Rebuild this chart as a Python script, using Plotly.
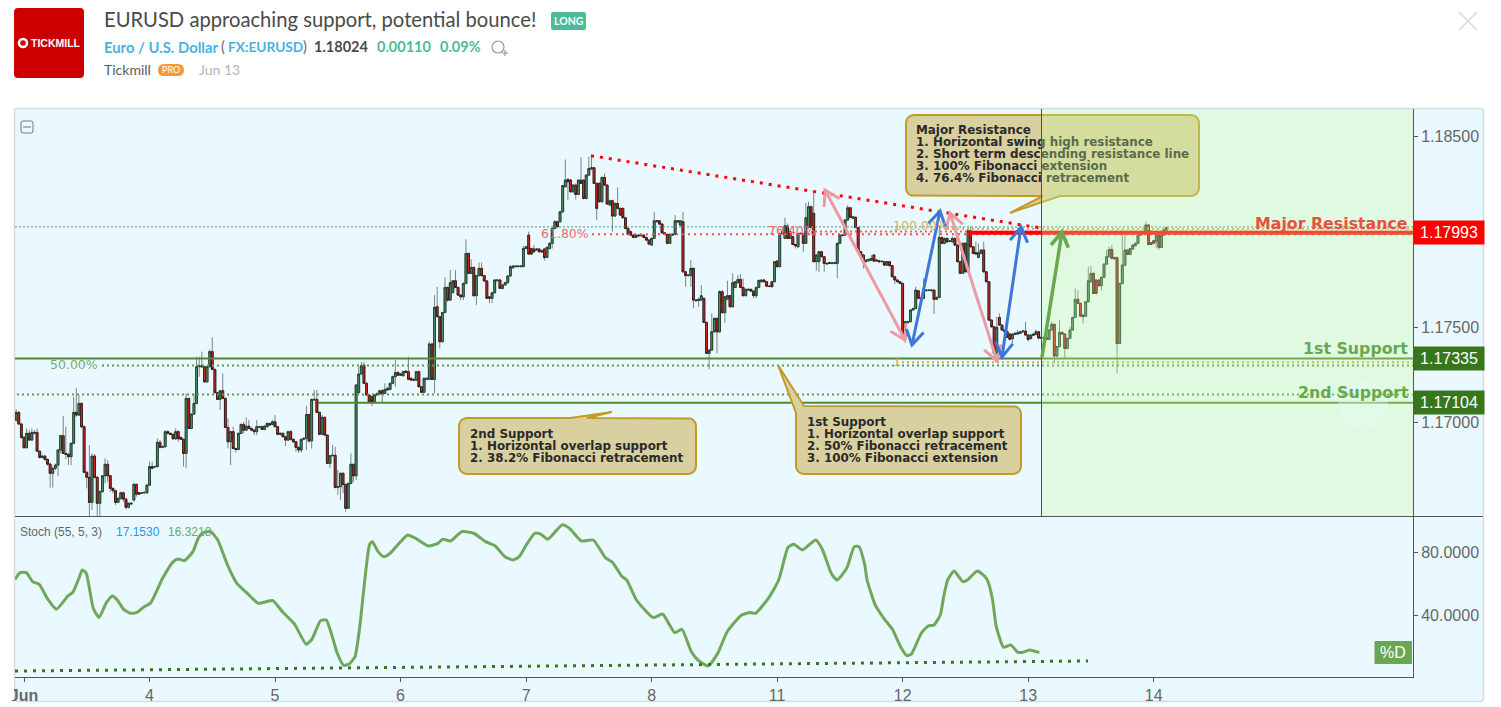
#################
# EURUSD idea chart: 30 minute candles, stochastic pane, support / resistance drawings
#################
import numpy as np
import plotly.graph_objects as go

# candle values in 1e-5 price points, one line = 10 bars
bar_open = [
    117013,117053,116992,116922,116868,116943,116908,116943,116948,116850,
    116817,116824,116807,116782,116734,116760,116777,116856,116931,116838,
    116833,116821,116891,117053,117039,117100,116978,116739,116713,116582,
    116824,116713,116577,116638,116721,116781,116721,116655,116643,116582,
    116603,116632,116599,116556,116573,116594,116676,116632,116629,116632,
    116632,116672,116769,116767,116769,116896,116870,116873,116952,116943,
    116938,116915,116952,116922,116912,116838,117126,116969,117044,117100,
    117292,117297,117292,117213,117292,117371,117278,117156,117121,117166,
    117126,116974,116899,116952,116864,116859,116943,116990,116960,116981,
    116969,116960,116952,116976,116978,116964,116978,116995,116990,117004,
    116978,116938,116943,116926,116908,116952,116912,116899,116870,116856,
    116912,116917,117042,116903,117118,117121,117053,116938,117027,116934,
    116786,116826,116828,116660,116664,116734,116676,116551,116681,116781,
    116721,117156,117254,117300,117205,117144,117135,117109,117144,117149,
    117166,117152,117170,117173,117205,117240,117262,117254,117245,117269,
    117266,117231,117226,117222,117266,117187,117158,117226,117226,117411,
    117226,117606,117554,117423,117576,117707,117641,117680,117742,117707,
    117667,117658,117728,117885,117781,117812,117664,117769,117807,117769,
    117741,117658,117650,117679,117742,117746,117702,117720,117732,117767,
    117810,117816,117816,117816,117816,117911,117981,117911,117908,117903,
    117908,117899,117908,117864,117911,117938,118016,118051,118051,118103,
    118234,118273,118269,118208,118243,118194,118269,118269,118173,118295,
    118327,118334,118252,118252,118156,118283,118243,118139,118161,118081,
    118147,118121,118121,118072,118016,117999,117981,117969,117976,117978,
    117981,117969,117955,117929,117964,118051,118056,118039,117993,117985,
    117938,117981,117985,118056,118034,118051,117789,117769,117769,117807,
    117641,117638,117641,117650,117524,117362,117379,117475,117545,117475,
    117685,117575,117646,117664,117606,117707,117732,117749,117707,117664,
    117693,117697,117688,117664,117707,117737,117746,117737,117714,117737,
    117737,117845,117816,117987,117964,118028,117964,117973,117932,117920,
    117987,117990,117938,118021,118130,118095,117842,117842,117894,117868,
    117833,117837,117833,117833,117833,117938,117979,117981,118060,118124,
    118069,118074,118021,117894,117877,117842,117847,117850,117877,117845,
    117847,117842,117842,117824,117842,117821,117763,117746,117737,117728,
    117449,117523,117528,117589,117597,117690,117645,117650,117690,117691,
    117690,117693,117645,117655,117969,117938,117964,117948,117946,117964,
    117929,117842,117781,117938,117789,118004,117920,117889,117864,117885,
    117903,117789,117737,117536,117501,117362,117550,117510,117484,117475,
    117463,117439,117461,117463,117467,117475,117479,117458,117439,117456,
    117461,117475,117446,117440,117446,117435,117484,117514,117348,117397,
    117472,117463,117388,117440,117484,117550,117645,117624,117562,117557,
    117632,117737,117781,117746,117746,117716,117760,117829,117868,117906,
    117857,117864,117414,117728,117824,117903,117880,117908,117925,117938,
    117981,117993,117999,118034,117941,117952,117946,117981,117917,117981,118007,
]
bar_high = [
    117069,117060,116998,116930,116969,116960,116969,116960,116969,116852,
    116830,116830,116810,116790,116770,116785,116862,116936,117034,116978,
    116840,116895,117135,117179,117144,117105,116985,116745,116882,116838,
    116835,116720,116645,116725,116812,116803,116725,116660,116648,116608,
    116638,116638,116604,116582,116582,116685,116680,116636,116636,116638,
    116678,116795,116795,116775,116917,116908,116880,116960,116960,116948,
    116942,116969,116958,116926,116916,117152,117130,117048,117152,117344,
    117344,117371,117296,117296,117383,117446,117282,117160,117170,117257,
    117130,117021,116956,116978,116868,116948,116995,117004,117027,117013,
    116973,116965,117013,116983,116983,116985,117000,117000,117013,117039,
    116982,116948,116948,116930,116956,116960,116916,116903,116874,116916,
    116922,117086,117046,117125,117170,117170,117057,117039,117031,116938,
    116830,116882,116873,116751,116738,116738,116680,116686,116838,116785,
    117200,117292,117318,117318,117210,117148,117140,117148,117157,117171,
    117175,117205,117184,117210,117245,117327,117268,117258,117271,117274,
    117344,117236,117230,117271,117271,117192,117236,117236,117423,117416,
    117667,117711,117558,117580,117760,117712,117798,117746,117798,117712,
    117672,117733,117959,117890,117854,117816,117773,117837,117837,117773,
    117745,117662,117684,117751,117751,117751,117724,117737,117771,117824,
    117824,117824,117823,117822,117925,117925,117999,117916,117929,117914,
    117914,117904,117914,117922,117943,118020,118060,118056,118108,118244,
    118377,118278,118274,118248,118252,118274,118388,118274,118300,118391,
    118400,118338,118256,118256,118288,118304,118248,118166,118166,118152,
    118231,118125,118125,118076,118020,118004,117985,117986,117985,117986,
    117986,117973,117959,117968,118103,118060,118060,118043,117997,117989,
    117989,117989,118086,118060,118060,118103,117793,117776,117850,117811,
    117645,117650,117720,117654,117528,117383,117571,117550,117550,117693,
    117693,117662,117742,117668,117781,117742,117772,117777,117754,117702,
    117702,117702,117692,117712,117748,117750,117750,117741,117718,117741,
    117846,117850,117994,118025,118074,118042,118016,117978,117936,117994,
    117994,117994,118151,118156,118135,118213,117882,117899,117899,117872,
    117838,117842,117840,117842,117942,117986,117986,118065,118138,118129,
    118082,118079,118025,117898,117881,117855,117858,117877,117881,117855,
    117852,117848,117846,117846,117846,117825,117767,117750,117741,117732,
    117532,117532,117593,117602,117711,117694,117654,117755,117697,117697,
    117697,117697,117660,118028,117973,117968,117968,117955,117973,117968,
    117933,117846,117943,117943,118009,118025,117924,117947,117938,117907,
    117947,117793,117741,117540,117505,117554,117571,117514,117488,117484,
    117467,117467,117471,117484,117479,117483,117528,117462,117462,117467,
    117487,117479,117450,117450,117450,117488,117528,117518,117401,117536,
    117476,117467,117444,117501,117554,117702,117693,117628,117566,117636,
    117816,117819,117785,117750,117750,117764,117833,117903,117920,117929,
    117868,117868,117732,118007,117999,117907,117915,117933,117942,117985,
    117997,118003,118051,118038,117945,117956,117985,117985,117985,118015,118025,
]
bar_low = [
    117004,116987,116915,116864,116864,116905,116905,116938,116846,116812,
    116812,116800,116774,116659,116659,116751,116720,116838,116835,116807,
    116777,116777,116885,117030,117034,116970,116735,116655,116510,116542,
    116705,116510,116510,116632,116681,116690,116638,116629,116568,116577,
    116594,116585,116545,116550,116570,116585,116612,116620,116625,116628,
    116628,116667,116755,116762,116765,116864,116866,116868,116938,116933,
    116908,116908,116899,116908,116769,116760,116965,116965,117040,117096,
    117240,117288,117208,117208,117288,117274,117152,117118,117065,117122,
    116970,116864,116777,116859,116842,116855,116938,116943,116955,116965,
    116955,116934,116934,116972,116960,116960,116974,116982,116985,116974,
    116934,116933,116920,116877,116903,116906,116895,116847,116842,116842,
    116908,116856,116894,116864,117114,117049,116934,116934,116930,116782,
    116760,116822,116655,116620,116594,116629,116533,116547,116676,116690,
    116699,117152,117250,117200,117140,117105,117086,117105,117140,117145,
    117103,117148,117165,117168,117200,117187,117244,117244,117240,117258,
    117221,117218,117218,117218,117183,117154,117154,117222,117222,117222,
    117152,117550,117388,117418,117572,117632,117636,117676,117703,117662,
    117640,117640,117724,117776,117776,117658,117615,117765,117765,117736,
    117645,117625,117625,117675,117738,117698,117698,117716,117728,117763,
    117805,117812,117812,117812,117812,117907,117878,117878,117890,117898,
    117890,117890,117847,117860,117907,117911,118012,118020,118047,118099,
    118230,118165,118204,118204,118168,118190,118248,118168,118168,118290,
    118322,118248,118060,118151,118151,118238,118140,118134,117999,118076,
    118117,118082,118068,118012,117981,117977,117965,117965,117972,117974,
    117965,117950,117930,117925,117960,118047,118035,117989,117981,117934,
    117934,117977,117981,118047,118030,117785,117711,117765,117711,117597,
    117634,117606,117637,117520,117358,117278,117375,117470,117362,117470,
    117570,117522,117640,117601,117601,117703,117728,117703,117660,117660,
    117689,117684,117650,117650,117703,117733,117733,117710,117708,117707,
    117733,117812,117812,117983,117960,117960,117960,117928,117911,117916,
    117983,117894,117934,118017,118017,117838,117795,117789,117864,117789,
    117827,117828,117828,117828,117755,117934,117975,117977,118056,118070,
    118065,118017,117890,117873,117807,117838,117843,117846,117841,117841,
    117838,117838,117820,117820,117817,117759,117725,117733,117724,117445,
    117418,117519,117524,117585,117593,117646,117641,117646,117686,117688,
    117686,117568,117641,117651,117934,117934,117942,117944,117942,117925,
    117838,117777,117777,117785,117785,117916,117880,117878,117860,117880,
    117785,117733,117532,117497,117358,117358,117506,117480,117471,117442,
    117431,117414,117457,117459,117463,117471,117454,117423,117435,117452,
    117457,117435,117438,117436,117431,117431,117480,117310,117344,117393,
    117459,117336,117384,117436,117480,117546,117620,117553,117519,117553,
    117628,117733,117672,117672,117712,117690,117756,117825,117864,117855,
    117853,117257,117410,117724,117820,117876,117876,117904,117921,117934,
    117977,117989,117995,117928,117928,117934,117911,117903,117913,117977,118003,
]
bar_close = [
    117053,116992,116922,116868,116943,116908,116948,116948,116850,116817,
    116824,116807,116782,116734,116760,116777,116856,116931,116838,116833,
    116821,116891,117053,117039,117100,116978,116739,116713,116582,116824,
    116713,116577,116638,116721,116781,116721,116655,116643,116582,116603,
    116632,116599,116556,116577,116577,116676,116625,116625,116632,116634,
    116672,116769,116760,116769,116896,116870,116873,116952,116943,116938,
    116915,116952,116915,116912,116838,117126,116969,117044,117100,117292,
    117297,117292,117213,117292,117371,117278,117156,117121,117166,117126,
    116974,116899,116952,116864,116859,116943,116990,116960,116981,116969,
    116960,116952,116978,116978,116964,116981,116995,116987,117004,116978,
    116938,116943,116926,116908,116952,116912,116899,116870,116856,116912,
    116917,117042,116903,117121,117121,117053,116938,117027,116934,116786,
    116826,116828,116660,116664,116734,116676,116551,116681,116781,116721,
    117196,117254,117297,117205,117144,117109,117109,117144,117152,117166,
    117149,117173,117179,117205,117240,117261,117248,117248,117266,117262,
    117226,117222,117222,117266,117187,117158,117231,117231,117411,117226,
    117603,117554,117423,117576,117707,117641,117732,117742,117707,117667,
    117658,117728,117885,117781,117812,117664,117769,117807,117769,117741,
    117650,117650,117679,117746,117746,117702,117720,117732,117767,117816,
    117819,117819,117819,117819,117911,117920,117882,117882,117894,117908,
    117894,117894,117864,117917,117938,118016,118051,118025,118103,118240,
    118269,118260,118208,118243,118194,118269,118252,118173,118295,118330,
    118334,118252,118121,118156,118283,118243,118144,118161,118081,118147,
    118121,118086,118072,118016,117985,117981,117969,117981,117981,117981,
    117969,117955,117934,117964,118056,118056,118039,117993,117985,117938,
    117985,117985,118056,118051,118056,117789,117769,117772,117807,117641,
    117638,117646,117664,117524,117362,117379,117475,117545,117475,117685,
    117575,117658,117664,117606,117732,117737,117749,117707,117664,117697,
    117697,117688,117664,117707,117744,117746,117737,117714,117712,117711,
    117842,117816,117990,117999,118030,117964,117999,117932,117925,117990,
    117990,117938,118072,118130,118021,117842,117877,117894,117868,117833,
    117831,117833,117835,117837,117938,117981,117981,118060,118124,118074,
    118077,118021,117894,117877,117842,117850,117854,117859,117845,117850,
    117842,117844,117824,117842,117821,117763,117746,117737,117728,117449,
    117528,117528,117589,117597,117693,117650,117650,117690,117693,117693,
    117693,117645,117655,117969,117938,117964,117946,117950,117964,117929,
    117842,117781,117938,117789,118004,117920,117885,117882,117889,117903,
    117789,117737,117536,117501,117362,117498,117510,117484,117475,117446,
    117435,117463,117467,117470,117475,117479,117458,117435,117458,117463,
    117475,117442,117442,117446,117435,117484,117514,117348,117397,117472,
    117463,117388,117440,117484,117550,117645,117624,117557,117554,117632,
    117742,117781,117676,117676,117716,117760,117829,117868,117906,117859,
    117864,117414,117728,117824,117903,117880,117911,117929,117938,117981,
    117993,117999,118034,117932,117932,117938,117981,117917,117981,118011,118021,
]
assert len(bar_open) == len(bar_high) == len(bar_low) == len(bar_close)

# stochastic %D
stoch_bar = [
    -3.4,-1.5,0.9,3.3,5.9,9.1,12.4,16.8,18.7,21,22.3,23.8,26.5,28.7,31.5,33.8,35.7,38.1,40.6,43,
    45.7,48.5,53,57.1,58.9,61.3,64.6,66.8,68.6,71.4,74.1,77.8,81.4,85.1,89.6,95.1,98.8,103.4,107.9,110.1,
    113.4,115.6,117.5,119.8,122.2,124.4,126.6,128.4,132.1,133.2,135.4,137.6,140,146.7,149.7,154.6,158.3,160.1,163.2,167.4,
    172,176.5,180.2,183.9,187,189.4,192.1,195.4,197.6,200.3,205.8,208.6,213.1,217.7,222.3,225,228.7,230.5,234.2,240.6,
    244.2,248.8,251.6,255.2,258,261.6,265.3,268.9,274.4,277.7,
    279.8,284.9,288.6,292.2,294.4,297.7,302.8,305.4,308.7,310.9,314.6,317.5,319.3,321.5,322.4,325.5,328.8,332.1,335.2,337.6,
    339.4,343.1,345.7,348,350.4,351.7,353.2,355.7,359,360.8,364.5,367.2,368.5,370.4,371.8,374.6,377.3,380.1,381.9,384.6,388.3,
]
stoch_value = [
    62.9,67.1,67.1,61.4,59.5,50.2,43.8,52.3,54.6,63.5,68.8,66.7,44.4,38.7,48.0,52.3,49.7,43.8,41.3,41.7,
    45.1,48.0,63.5,74.1,75.8,74.7,80.4,89.5,92.5,93.1,87.8,72.0,60.3,54.4,47.6,49.3,42.3,34.5,21.6,24.8,
    36.6,37.0,28.6,15.9,8.3,9.1,13.8,32.8,84.7,86.8,80.4,77.2,79.4,91.0,88.9,84.0,85.7,88.3,87.2,93.1,
    92.1,86.8,84.0,77.2,75.1,77.2,84.7,92.1,91.6,88.3,97.4,95.2,87.2,87.8,76.6,73.7,64.6,62.4,49.7,38.5,
    40.8,29.0,31.1,16.9,11.2,7.8,15.9,29.6,40.2,41.7,
    41.3,51.4,62.4,83.2,85.1,81.5,87.8,81.5,66.7,62.4,69.8,83.6,83.6,72.0,62.4,46.6,38.1,31.1,20.1,14.4,
    15.5,28.6,33.2,33.9,40.2,51.9,62.4,68.1,61.4,62.4,68.1,65.0,62.0,49.7,32.8,19.7,21.2,16.5,16.5,18.0,16.3,
]

day_ticks = [0, 48, 96, 144, 192, 240, 288, 336, 384, 432]
day_labels = ["<b>Jun</b>", "4", "5", "6", "7", "8", "11", "12", "13", "14"]
price_ticks = [1.185, 1.17993, 1.175, 1.17335, 1.17104, 1.17]
price_labels = ["1.18500", "", "1.17500", "", "", "1.17000"]
stoch_ticks = [40, 80]
stoch_labels = ["40.0000", "80.0000"]

resistance_level = 1.17993
support_1_level = 1.17335
support_2_level = 1.17104
last_price = 1.18024
fib_618_level = 1.17985
fib_764_level = 1.18000
fib_100_level = 1.18015
fib_1_level = 1.17315
fib_500_level = 1.17299
fib_382_level = 1.17147

W = 1501
H = 707


# screen pixel -> axis value, drawings were placed by eye on the screenshot
def bx(px):
    return (px - 24) / 2.615


def py(px):
    return 1.185 + (136 - px) / 19100


def sv(px):
    return 80 + (552.3 - px) / 1.575


def fx(px):
    return px / W


def fy(px):
    return 1 - px / H


bars = np.arange(len(bar_close)) - 3
o = np.array(bar_open) / 1e5
h = np.array(bar_high) / 1e5
l = np.array(bar_low) / 1e5
c = np.array(bar_close) / 1e5

fig = go.Figure()

#################
# Candles: grey wicks first, bodies with dark border on top
#################
fig.add_trace(go.Candlestick(
    x=bars, open=o, high=h, low=l, close=c,
    increasing=dict(line=dict(color="#7b8584", width=1), fillcolor="#7b8584"),
    decreasing=dict(line=dict(color="#7b8584", width=1), fillcolor="#7b8584"),
    hoverinfo="skip", showlegend=False,
))
fig.add_trace(go.Candlestick(
    x=bars, open=o, high=np.maximum(o, c), low=np.minimum(o, c), close=c,
    increasing=dict(line=dict(color="#25402f", width=1), fillcolor="#4f9a72"),
    decreasing=dict(line=dict(color="#3a1c1c", width=1), fillcolor="#e8261e"),
    hoverinfo="skip", showlegend=False,
))


def hline(level, x0, x1, color, width, dash="solid"):
    fig.add_trace(go.Scatter(
        x=[x0, x1], y=[level, level], mode="lines",
        line=dict(color=color, width=width, dash=dash),
        hoverinfo="skip", showlegend=False,
    ))


x_end = bx(1413)
x_start = bx(15)
hline(last_price, x_start, x_end, "#4c8f78", 1, "2px,2px")
hline(fib_382_level, bx(17), x_end, "#5f9a4f", 2, "2px,3px")
hline(fib_500_level, bx(102), x_end, "#5f9a4f", 2, "2px,3px")
hline(fib_1_level, bx(902), x_end, "#c9a94f", 2, "2px,3px")
hline(fib_100_level, bx(947), x_end, "#c9a94f", 2, "2px,3px")
hline(fib_764_level, bx(815), x_end, "#ff5a5a", 2, "2px,3px")
hline(fib_618_level, bx(592), x_end, "#ff4a4a", 2, "2px,4px")
hline(support_1_level, x_start, x_end, "#4e8a32", 2)
hline(support_2_level, bx(318), x_end, "#4e8a32", 2)
hline(resistance_level, bx(968), x_end, "#ff0000", 4)

# descending resistance
fig.add_trace(go.Scatter(
    x=[bx(591), bx(1043)], y=[py(155.7), py(228.3)], mode="lines",
    line=dict(color="#ff0000", width=3, dash="3px,6px"),
    hoverinfo="skip", showlegend=False,
))


def arrow(x0, y0, x1, y1, color, width, both=True):
    # shaft with V heads, worked out in pixels then put back on the axes
    pts = []

    def head(ax, ay, bx_, by_):
        ang = np.arctan2(by_ - ay, bx_ - ax)
        out = []
        for s in (ang + 2.6, ang - 2.6):
            out.append((bx_ + 17 * np.cos(s), by_ + 17 * np.sin(s)))
        return out

    a1, a2 = head(x0, y0, x1, y1)
    pts += [(x0, y0), (x1, y1), a1, (x1, y1), a2, (x1, y1), (x0, y0)]
    if both:
        b1, b2 = head(x1, y1, x0, y0)
        pts += [b1, (x0, y0), b2]
    fig.add_trace(go.Scatter(
        x=[bx(p[0]) for p in pts], y=[py(p[1]) for p in pts], mode="lines",
        line=dict(color=color, width=width, shape="linear"),
        hoverinfo="skip", showlegend=False,
    ))


arrow(825, 190, 905, 340, "#ee9aa4", 3)
arrow(950, 213, 997, 361, "#ee9aa4", 3)
arrow(940, 211, 912, 345, "#3c78d8", 3)
arrow(1021, 227, 1002, 357, "#3c78d8", 3)


#################
# Callouts
#################
def callout(x0, y0, x1, y1, corner=None, top=None, bottom=None, r=8):
    t = np.linspace(0, np.pi / 2, 6)
    xs, ys = [], []
    if corner:
        xs += [p[0] for p in corner]
        ys += [p[1] for p in corner]
    else:
        xs += list(x0 + r - r * np.cos(t))
        ys += list(y0 + r - r * np.sin(t))
    for p in top or []:
        xs.append(p[0])
        ys.append(p[1])
    xs += list(x1 - r + r * np.sin(t))
    ys += list(y0 + r - r * np.cos(t))
    xs += list(x1 - r + r * np.cos(t))
    ys += list(y1 - r + r * np.sin(t))
    for p in bottom or []:
        xs.append(p[0])
        ys.append(p[1])
    xs += list(x0 + r - r * np.sin(t))
    ys += list(y1 - r + r * np.cos(t))
    xs.append(xs[0])
    ys.append(ys[0])
    fig.add_trace(go.Scatter(
        x=[bx(v) for v in xs], y=[py(v) for v in ys], mode="lines", fill="toself",
        fillcolor="#d9d0a0", line=dict(color="#c49a2a", width=2),
        hoverinfo="skip", showlegend=False,
    ))


def text_block(lines, px, top_py, step=12.0, size=11.9):
    fig.add_trace(go.Scatter(
        x=[bx(px)] * len(lines), y=[py(top_py + i * step) for i in range(len(lines))],
        mode="text", text=["<b>" + t + "</b>" for t in lines], textposition="middle right",
        textfont=dict(family="DejaVu Sans", size=size, color="#2a2a2a"),
        hoverinfo="skip", showlegend=False,
    ))


callout(906, 115, 1199, 196, bottom=[(1060, 196), (1010, 213), (1043, 196)])
callout(459, 418, 696, 474, top=[(570, 418), (612, 412), (587, 418)])
callout(796, 406, 1021, 474, corner=[(796, 413), (778, 365), (804, 406)])

text_block(["Major Resistance", "1. Horizontal swing high resistance",
            "2. Short term descending resistance line", "3. 100% Fibonacci extension",
            "4. 76.4% Fibonacci retracement"], 916, 131.5)
text_block(["2nd Support", "1. Horizontal overlap support", "2. 38.2% Fibonacci retracement"], 470, 435)
text_block(["1st Support", "1. Horizontal overlap support", "2. 50% Fibonacci retracement",
            "3. 100% Fibonacci extension"], 807, 423)


# fib labels
def fib_label(txt, px, pty, color, size=12.5):
    fig.add_trace(go.Scatter(
        x=[bx(px)], y=[py(pty)], mode="text", text=[txt], textposition="middle right",
        textfont=dict(family="DejaVu Sans", size=size, color=color),
        hoverinfo="skip", showlegend=False,
    ))


fib_label("50.00%", 50, 365.5, "#7fa877")
fib_label("61.80%", 541, 234.5, "#f26a6a")
fib_label("76.40%", 768, 231.5, "#f26a6a")
fib_label("100.00%", 893, 227, "#c9b26a")
fib_label("1", 893, 363, "#c9a94f")

#################
# Green zone, laid over everything above so that it fades it
#################
fig.add_trace(go.Scatter(
    x=[bx(1041), x_end, x_end, bx(1041), bx(1041)],
    y=[py(109), py(109), py(516), py(516), py(109)],
    mode="lines", fill="toself", fillcolor="rgba(203,252,152,0.3)", line=dict(width=0),
    hoverinfo="skip", showlegend=False,
))
fig.add_trace(go.Scatter(
    x=[bx(1041.5), bx(1041.5)], y=[py(109), py(516)], mode="lines",
    line=dict(color="#2f6a18", width=1), hoverinfo="skip", showlegend=False,
))
fig.add_trace(go.Scatter(
    x=[bx(1363)], y=[py(405)], mode="markers",
    marker=dict(size=50, color="rgba(233,249,245,0.35)", line=dict(width=0)),
    hoverinfo="skip", showlegend=False,
))
arrow(1042, 357, 1062, 232, "#6aa84f", 3.5, both=False)

fib_label("<b>Major Resistance</b>", 1255, 225, "#e8503f", 15.8)
fib_label("<b>1st Support</b>", 1303, 350, "#6aa84f", 15.8)
fib_label("<b>2nd Support</b>", 1298, 394, "#6aa84f", 15.8)

#################
# Stochastic pane
#################
fig.add_trace(go.Scatter(
    x=stoch_bar, y=stoch_value, mode="lines", xaxis="x2", yaxis="y2",
    line=dict(color="#6fa858", width=3, shape="spline", smoothing=0.5),
    hoverinfo="skip", showlegend=False,
))
fig.add_trace(go.Scatter(
    x=[x_start, bx(1088)], y=[sv(671), sv(661)], mode="lines", xaxis="x2", yaxis="y2",
    line=dict(color="#38761d", width=3, dash="3px,6px"),
    hoverinfo="skip", showlegend=False,
))


#################
# Header and other page furniture
#################
def rrect(x0, y0, x1, y1, r):
    # rounded box as an svg path in pixels converted to paper fractions
    a, b, c_, d = fx(x0), fy(y0), fx(x1), fy(y1)
    rx, ry = r / W, r / H
    return (f"M {a+rx} {b} L {c_-rx} {b} Q {c_} {b} {c_} {b-ry} L {c_} {d+ry} Q {c_} {d} {c_-rx} {d} "
            f"L {a+rx} {d} Q {a} {d} {a} {d+ry} L {a} {b-ry} Q {a} {b} {a+rx} {b} Z")


shapes = [
    dict(type="path", path=rrect(14.5, 108.5, 1483.5, 701.5, 3), xref="paper", yref="paper", layer="below",
         fillcolor="#e9f9ff", line=dict(color="#d3dbe3", width=1.5)),
    dict(type="path", path=rrect(14, 8, 84, 78, 4), xref="paper", yref="paper",
         fillcolor="#cc0000", line=dict(width=0)),
    dict(type="circle", xref="paper", yref="paper", x0=fx(19), x1=fx(27), y0=fy(47), y1=fy(39),
         line=dict(color="white", width=2.5)),
    dict(type="path", path=rrect(551, 12, 586, 30, 2), xref="paper", yref="paper",
         fillcolor="#4cbb97", line=dict(width=0)),
    dict(type="path", path=rrect(158, 64, 184, 76, 6), xref="paper", yref="paper",
         fillcolor="#f59a38", line=dict(width=0)),
    dict(type="path", path=rrect(1374.5, 641, 1412, 664, 1), xref="paper", yref="paper",
         fillcolor="#6aa84f", line=dict(width=0)),
    dict(type="path", path=rrect(21, 121, 33, 133, 2), xref="paper", yref="paper",
         fillcolor="rgba(0,0,0,0)", line=dict(color="#777777", width=1)),
    # cover for the part of "Jun" left of the pane
    dict(type="rect", xref="paper", yref="paper", x0=fx(0), x1=fx(14), y0=fy(700), y1=fy(680),
         fillcolor="white", line=dict(width=0)),
    # collapse minus, divider, close cross, alarm icon
    dict(type="line", xref="paper", yref="paper", x0=fx(23), x1=fx(31), y0=fy(127), y1=fy(127),
         line=dict(color="#777777", width=1)),
    dict(type="line", xref="paper", yref="paper", x0=fx(15), x1=fx(1483), y0=fy(516.5), y1=fy(516.5),
         line=dict(color="#555555", width=1)),
    dict(type="line", xref="paper", yref="paper", x0=fx(1459), x1=fx(1477), y0=fy(12), y1=fy(30),
         line=dict(color="#d8d8d8", width=1.5)),
    dict(type="line", xref="paper", yref="paper", x0=fx(1477), x1=fx(1459), y0=fy(12), y1=fy(30),
         line=dict(color="#d8d8d8", width=1.5)),
    dict(type="circle", xref="paper", yref="paper", x0=fx(492), x1=fx(504), y0=fy(53), y1=fy(41),
         line=dict(color="#8a9aa5", width=1.2)),
    dict(type="line", xref="paper", yref="paper", x0=fx(502), x1=fx(508), y0=fy(53), y1=fy(53),
         line=dict(color="#8a9aa5", width=1.2)),
    dict(type="line", xref="paper", yref="paper", x0=fx(505), x1=fx(505), y0=fy(50), y1=fy(56),
         line=dict(color="#8a9aa5", width=1.2)),
]


def note(txt, px, pty, size, color, family="DejaVu Sans", anchor="left"):
    # annotations carry about 2px of padding on the left
    shift = 2 if anchor == "left" else 0
    return dict(text=txt, x=fx(px - shift), y=fy(pty), xref="paper", yref="paper", xanchor=anchor, yanchor="middle",
                showarrow=False, font=dict(family=family, size=size, color=color))


def price_box(txt, level, color):
    return dict(text=txt, x=fx(1413), y=level, xref="paper", yref="y", xanchor="left", yanchor="middle",
                showarrow=False, width=70, height=23, bgcolor=color, borderpad=0, align="center",
                font=dict(family="Liberation Sans", size=16, color="white"))


annotations = [
    note("EURUSD approaching support, potential bounce!", 104, 19, 20.2, "#4a4a4a", "Lato"),
    note("<b>LONG</b>", 568.5, 21, 10.5, "white", "Lato", "center"),
    note("<b>TICKMILL</b>", 55.5, 43, 10.5, "white", "Liberation Sans", "center"),
    note("<b>Euro / U.S. Dollar</b>", 104, 47, 14.8, "#47b2e4", "Lato"),
    note("(", 221, 47, 14.5, "#666666", "Lato"),
    note("<b>FX:EURUSD</b>", 228, 47, 13.7, "#47b2e4", "Lato"),
    note(")", 303, 47, 14.5, "#666666", "Lato"),
    note("<b>1.18024</b>", 314, 47, 14.5, "#4a4a4a", "Lato"),
    note("<b>0.00110</b>", 377, 47, 14.5, "#4cbb97", "Lato"),
    note("<b>0.09%</b>", 440, 47, 14.5, "#4cbb97", "Lato"),
    note("Tickmill", 104, 69, 14, "#5a5a5a", "Lato"),
    note("PRO", 171, 70, 9, "white", "Lato", "center"),
    note("Jun 13", 199, 69, 14, "#b5b5b5", "Lato"),
    note("Stoch (55, 5, 3)", 20, 532, 12, "#666666", "Liberation Sans"),
    note("17.1530", 116, 532, 12, "#2196f3", "Liberation Sans"),
    note("16.3218", 168, 532, 12, "#6fa858", "Liberation Sans"),
    note("%D", 1393, 652.5, 16, "white", "Liberation Sans", "center"),
    price_box("1.17993", resistance_level, "#ff0000"),
    price_box("1.17335", support_1_level, "#38761d"),
    price_box("1.17104", support_2_level, "#38761d"),
]

fig.update_layout(
    width=W, height=H,
    margin=dict(l=0, r=0, t=0, b=0, autoexpand=False),
    paper_bgcolor="white", plot_bgcolor="rgba(0,0,0,0)",
    showlegend=False, boxgap=0,
    shapes=shapes, annotations=annotations,
    xaxis=dict(domain=[fx(15), fx(1413)], range=[x_start, x_end], rangeslider=dict(visible=False),
               showgrid=False, zeroline=False, showticklabels=False, ticks="", anchor="y"),
    yaxis=dict(domain=[fy(516), fy(109)], range=[py(516), py(109)], side="right", anchor="x",
               showgrid=False, zeroline=False, showline=True, linecolor="#555555", linewidth=1,
               tickvals=price_ticks, ticktext=price_labels, ticks="outside", ticklen=4, tickcolor="#555555",
               tickfont=dict(family="Liberation Sans", size=16, color="#666666")),
    xaxis2=dict(domain=[fx(15), fx(1413)], range=[x_start, x_end], matches="x", anchor="y2",
                showgrid=False, zeroline=False, showline=True, linecolor="#555555", linewidth=1,
                tickvals=day_ticks, ticktext=day_labels, ticks="outside", ticklen=4, tickcolor="#555555",
                tickfont=dict(family="Liberation Sans", size=16, color="#666666")),
    yaxis2=dict(domain=[fy(677), fy(517)], range=[sv(677), sv(517)], side="right", anchor="x2",
                showgrid=False, zeroline=False, showline=True, linecolor="#555555", linewidth=1,
                tickvals=stoch_ticks, ticktext=stoch_labels, ticks="outside", ticklen=4, tickcolor="#555555",
                tickfont=dict(family="Liberation Sans", size=16, color="#666666")),
)

fig.write_html("out.html", config=dict(displayModeBar=False),
               post_script="document.body.style.margin='0';document.body.style.overflow='hidden';")
